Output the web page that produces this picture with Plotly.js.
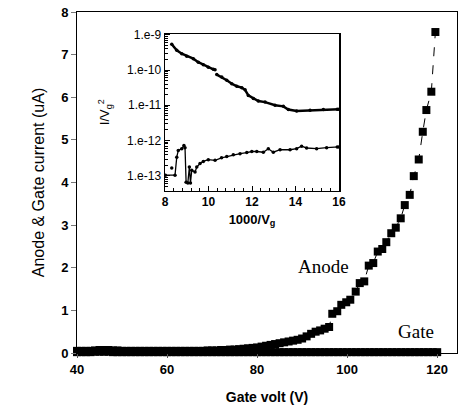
<!DOCTYPE html>
<html>
<head>
<meta charset="utf-8">
<script src="https://cdn.plot.ly/plotly-3.0.1.min.js"></script>
<style>html,body{margin:0;padding:0;background:#fff;}#chart{width:459px;height:407px;}</style>
</head>
<body>
<div id="chart"></div>
<script>
// Main panel: anode current (uA) vs gate voltage (V)
const anodeV = [40,41,42,43,44,45,46,47,48,49,50,51,52,53,54,55,56,57,58,59,60,61,62,63,64,65,66,67,68,69,70,71,72,73,74,75,76,77,78,79,80,81,82,83,84,85,86,87,88,89,90,91,92,93,94,95,96,
  96.7,97.8,98.7,99.8,100.7,101.9,102.8,103.8,104.8,105.8,106.8,107.8,108.7,109.8,110.8,111.9,112.8,113.9,114.8,115.9,116.8,117.6,118.7,119.6];
const anodeI = [0.05,0.05,0.05,0.05,0.06,0.07,0.07,0.07,0.06,0.06,0.05,0.05,0.05,0.05,0.05,0.05,0.05,0.05,0.05,0.05,0.05,0.05,0.05,0.05,0.05,0.05,0.05,0.05,0.05,0.06,0.06,0.06,0.07,0.07,0.08,0.08,0.09,0.10,0.11,0.12,0.13,0.15,0.17,0.19,0.21,0.23,0.25,0.27,0.29,0.31,0.34,0.39,0.45,0.50,0.53,0.57,0.61,
  0.92,0.98,1.13,1.19,1.25,1.44,1.64,1.68,2.05,2.11,2.38,2.44,2.60,2.81,2.94,3.16,3.47,3.71,4.15,4.54,5.19,5.70,6.13,7.53];
// Gate current (uA)
const gateV = [40,41,42,43,44,45,46,47,48,49,50,51,52,53,54,55,56,57,58,59,60,61,62,63,64,65,66,67,68,69,70,71,72,73,74,75,76,77,78,79,80,81,82,83,84,85,86,87,88,89,90,91,92,93,94,95,96,97,98,99,100,101,102,103,104,105,106,107,108,109,110,111,112,113,114,115,116,117,118,119,120];
const gateI = [0.02,0.02,0.02,0.02,0.03,0.03,0.03,0.03,0.02,0.02,0.02,0.02,0.02,0.02,0.02,0.02,0.02,0.02,0.02,0.02,0.02,0.02,0.02,0.02,0.02,0.02,0.02,0.02,0.02,0.02,0.02,0.02,0.02,0.02,0.02,0.02,0.02,0.02,0.02,0.02,0.02,0.02,0.02,0.02,0.02,0.02,0.02,0.02,0.02,0.02,0.02,0.02,0.02,0.02,0.02,0.02,0.02,0.02,0.02,0.02,0.02,0.02,0.02,0.02,0.02,0.02,0.02,0.02,0.02,0.02,0.02,0.02,0.02,0.02,0.02,0.02,0.02,0.02,0.02,0.02,0.02];

// Inset: I/Vg^2 vs 1000/Vg (log10 values)
const upX = [8.31,8.54,8.77,9.0,9.30,9.53,9.76,9.99,10.22,10.30,null,10.38,10.61,10.84,11.07,11.30,11.53,11.68,11.83,12.06,12.29,12.60,13.06,13.44,13.67,14.05,14.67,15.28,15.92,16.0];
const upLog = [-9.27,-9.44,-9.54,-9.61,-9.68,-9.78,-9.85,-9.92,-9.98,-9.99,null,-10.13,-10.2,-10.29,-10.39,-10.46,-10.5,-10.56,-10.72,-10.81,-10.88,-10.91,-11.0,-11.03,-11.12,-11.16,-11.14,-11.12,-11.11,-11.11];
const lowX = [8.02,8.46,8.54,8.61,8.77,8.87,8.92,8.97,9.05,9.12,9.17,9.23,9.38,9.46,9.61,9.76,9.99,10.3,10.6,10.84,11.14,11.45,11.76,11.99,12.22,12.52,12.75,12.98,13.29,13.75,14.05,14.28,14.51,14.97,15.43,15.92,16.0];
const lowLog = [-12.98,-12.98,-12.47,-12.28,-12.23,-12.14,-12.2,-13.18,-13.2,-12.75,-13.2,-12.84,-12.89,-12.75,-12.65,-12.59,-12.54,-12.56,-12.49,-12.45,-12.40,-12.37,-12.34,-12.31,-12.31,-12.33,-12.23,-12.33,-12.26,-12.26,-12.23,-12.16,-12.21,-12.23,-12.20,-12.18,-12.18];
const lowDotX = [8.31];
const lowDotLog = [-12.78];

const insetYTicks = [1e-13,1e-12,1e-11,1e-10,1e-9];
const insetYText = ['1.e-13','1.e-12','1.e-11','1.e-10','1.e-9'];
const mainXTicks = [40,60,80,100,120];

const toVal = a => a.map(v => v === null ? null : Math.pow(10, v));

const sans = 'Liberation Sans, Arial, sans-serif';
const serif = 'Liberation Serif, Times New Roman, serif';

const traces = [
  {x: gateV, y: gateI, mode: 'lines+markers', type: 'scatter', cliponaxis: false,
   line: {color: 'black', width: 1}, marker: {symbol: 'square', size: 8, color: 'black'}, xaxis: 'x', yaxis: 'y'},
  {x: anodeV, y: anodeI, mode: 'lines+markers', type: 'scatter', cliponaxis: false,
   line: {color: 'black', width: 1, dash: 'dash'}, marker: {symbol: 'square', size: 8, color: 'black'}, xaxis: 'x', yaxis: 'y'},
  {x: upX, y: toVal(upLog), mode: 'lines+markers', type: 'scatter', connectgaps: false,
   line: {color: 'black', width: 2.5}, marker: {size: 3.5, color: 'black'}, xaxis: 'x2', yaxis: 'y2'},
  {x: lowX, y: toVal(lowLog), mode: 'lines+markers', type: 'scatter',
   line: {color: 'black', width: 1.3}, marker: {size: 3.5, color: 'black'}, xaxis: 'x2', yaxis: 'y2'},
  {x: lowDotX, y: toVal(lowDotLog), mode: 'markers', type: 'scatter',
   marker: {size: 3.5, color: 'black'}, xaxis: 'x2', yaxis: 'y2'}
];

const layout = {
  width: 459, height: 407,
  margin: {l: 77, r: 2, t: 12, b: 54, pad: 0},
  paper_bgcolor: 'white', plot_bgcolor: 'white',
  showlegend: false,
  font: {family: sans, color: 'black'},
  xaxis: {
    range: [40, 124.4], tickmode: 'array', tickvals: mainXTicks,
    ticks: 'outside', ticklen: 4, tickcolor: '#555', tickwidth: 1,
    showline: true, mirror: true, linecolor: 'black', linewidth: 1,
    showgrid: false, zeroline: false,
    tickfont: {family: sans, size: 13, weight: 'bold'},
    title: {text: 'Gate volt (V)', font: {family: sans, size: 14, weight: 'bold'}, standoff: 16}
  },
  yaxis: {
    range: [0, 8], dtick: 1,
    ticks: 'outside', ticklen: 5, tickcolor: '#777', tickwidth: 1,
    showline: true, mirror: true, linecolor: 'black', linewidth: 1,
    showgrid: false, zeroline: false,
    tickfont: {family: sans, size: 13, weight: 'bold'},
    title: {text: 'Anode & Gate current (uA)', font: {family: sans, size: 16}, standoff: 12}
  },
  xaxis2: {
    domain: [0.2316, 0.6895], anchor: 'y2', range: [8, 16], dtick: 2,
    ticks: 'inside', ticklen: 5, tickcolor: 'black',
    minor: {ticks: 'inside', ticklen: 3, dtick: 0.4, tickcolor: 'black'},
    showline: true, mirror: true, linecolor: 'black', linewidth: 1,
    showgrid: false, zeroline: false,
    tickfont: {family: sans, size: 12, weight: 'bold'},
    title: {text: '1000/V<sub>g</sub>', font: {family: sans, size: 13, weight: 'bold'}, standoff: 6}
  },
  yaxis2: {
    domain: [0.476, 0.9365], anchor: 'x2', type: 'log', range: [-13.42, -8.97],
    tickmode: 'array', tickvals: insetYTicks, ticktext: insetYText,
    ticks: 'inside', ticklen: 5, tickcolor: 'black',
    minor: {ticks: 'inside', ticklen: 3, tickcolor: 'black', dtick: 'D1'},
    showline: true, mirror: true, linecolor: 'black', linewidth: 1.5,
    showgrid: false, zeroline: false,
    tickfont: {family: sans, size: 12},
    title: {text: 'I/V<sub>g</sub><sup>2</sup>', font: {family: sans, size: 13}, standoff: 14}
  },
  annotations: [
    {x: 94.7, y: 2.02, xref: 'x', yref: 'y', text: 'Anode', showarrow: false,
     font: {family: serif, size: 19, color: 'black'}},
    {x: 115.4, y: 0.5, xref: 'x', yref: 'y', text: 'Gate', showarrow: false,
     font: {family: serif, size: 19, color: 'black'}}
  ]
};

Plotly.newPlot('chart', traces, layout, {displayModeBar: false, staticPlot: true});
</script>
</body>
</html>
